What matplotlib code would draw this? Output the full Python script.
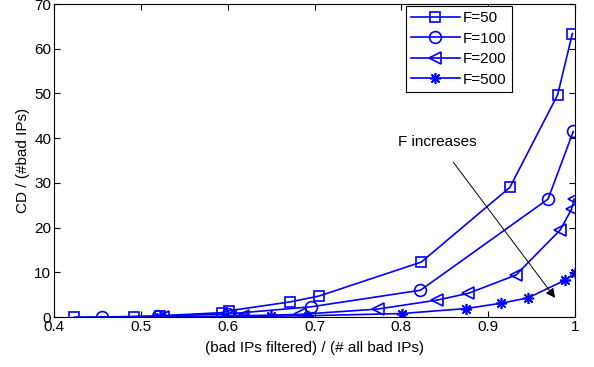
import numpy as np
import matplotlib
matplotlib.use("Agg")
import matplotlib.pyplot as plt

plt.rcParams['font.family'] = ['Liberation Sans', 'DejaVu Sans']

# data
x_f50 = [0.423, 0.492, 0.522, 0.594, 0.601, 0.672, 0.705, 0.823, 0.925, 0.980, 0.997]
y_f50 = [0.0, 0.1, 0.3, 1.0, 1.4, 3.4, 4.7, 12.3, 29.0, 49.7, 63.4]

x_f100 = [0.455, 0.520, 0.600, 0.696, 0.822, 0.969, 0.998]
y_f100 = [0.0, 0.2, 0.7, 2.3, 6.0, 26.4, 41.5]

x_f200 = [0.525, 0.603, 0.618, 0.683, 0.773, 0.841, 0.877, 0.932, 0.983, 0.996, 0.999]
y_f200 = [0.0, 0.2, 0.3, 0.6, 1.8, 3.8, 5.3, 9.4, 19.5, 24.1, 26.4]

x_f500 = [0.522, 0.618, 0.650, 0.693, 0.801, 0.874, 0.915, 0.946, 0.989, 1.000]
y_f500 = [0.0, 0.1, 0.2, 0.3, 0.8, 1.9, 3.1, 4.3, 8.3, 9.8]

labels = ['F=50', 'F=100', 'F=200', 'F=500']
x_ticks = [0.4, 0.5, 0.6, 0.7, 0.8, 0.9, 1.0]
x_ticklabels = ['0.4', '0.5', '0.6', '0.7', '0.8', '0.9', '1']
y_ticks = [0, 10, 20, 30, 40, 50, 60, 70]

fig = plt.figure(figsize=(5.94, 3.67), dpi=100)
ax = fig.add_axes([0.091, 0.136, 0.877, 0.853])

blue = (0, 0, 1)
common = dict(color=blue, lw=1.2, mfc='none', mec=blue, mew=1.2)
ax.plot(x_f50, y_f50, marker='s', ms=7, label=labels[0], **common)
ax.plot(x_f100, y_f100, marker='o', ms=8.5, label=labels[1], **common)
ax.plot(x_f200, y_f200, marker='<', ms=9, label=labels[2], **common)
ax.plot(x_f500, y_f500, marker=(8, 2, 0), ms=8, label=labels[3], **common)

ax.annotate('', xy=(0.979, 3.8), xytext=(0.858, 35.1),
            arrowprops=dict(arrowstyle='-|>', color='black', lw=0.7,
                            mutation_scale=14))
ax.text(0.842, 39.2, 'F increases', ha='center', va='center', fontsize=11)

ax.set_xlim(0.4, 1.0)
ax.set_ylim(0, 70)
ax.set_xticks(x_ticks)
ax.set_xticklabels(x_ticklabels)
ax.set_yticks(y_ticks)
ax.tick_params(direction='in', top=True, right=True, labelsize=11, length=4,
               width=0.8, pad=2)
for s in ax.spines.values():
    s.set_linewidth(0.8)

ax.set_xlabel('(bad IPs filtered) / (# all bad IPs)', fontsize=11, labelpad=5)
ax.set_ylabel('CD / (#bad IPs)', fontsize=11, labelpad=3)

leg = ax.legend(loc='upper right', bbox_to_anchor=(0.879, 0.994), fontsize=11,
                fancybox=False, framealpha=1, edgecolor='black',
                handlelength=3.2, borderpad=0.35, labelspacing=0.42,
                handletextpad=0.2, borderaxespad=0.0)
leg.get_frame().set_linewidth(0.8)

fig.savefig('out.png', dpi=100)
